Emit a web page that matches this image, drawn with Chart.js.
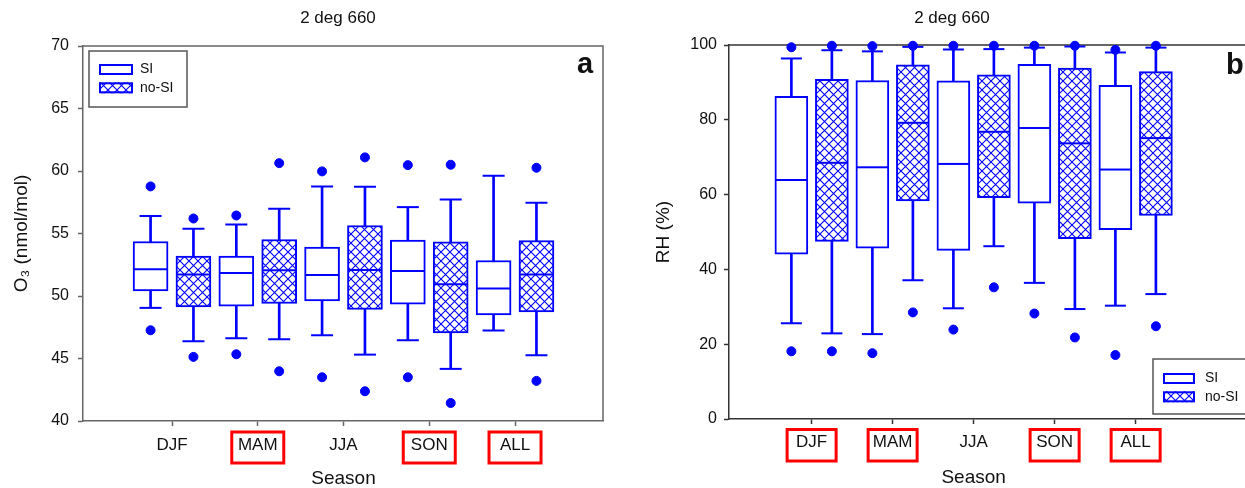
<!DOCTYPE html>
<html lang="en">
<head>
<meta charset="UTF-8">
<title>2 deg 660</title>
<script src="https://cdn.jsdelivr.net/npm/chart.js"></script>
<style>
    body { margin: 0; background: #fff; }
    #wrap { position: relative; width: 1245px; height: 488px; }
    #o3Chart { position: absolute; left: 0; top: 0; }
    #rhChart { position: absolute; left: 622px; top: 0; }
</style>
</head>
<body>
<div id="wrap">
    <canvas id="o3Chart" width="622" height="488"></canvas>
    <canvas id="rhChart" width="623" height="488"></canvas>
</div>
<script>
const seasons = ['DJF', 'MAM', 'JJA', 'SON', 'ALL'];

// each row: lower whisker, Q1, median, Q3, upper whisker
const o3SI = [
    [49.05, 50.41, 52.15, 54.36, 56.40],
    [46.62, 49.18, 51.85, 53.19, 55.72],
    [46.86, 49.61, 51.69, 53.91, 58.76],
    [46.46, 49.34, 52.01, 54.47, 57.11],
    [47.24, 48.49, 50.60, 52.84, 59.62]
];
const o3SIOut = [[47.26, 58.77], [45.34, 56.44], [43.50, 59.97], [43.50, 60.47], []];

const o3NoSI = [
    [46.38, 49.13, 51.72, 53.19, 55.38],
    [46.54, 49.40, 52.07, 54.52, 56.98],
    [45.31, 48.92, 52.09, 55.64, 58.74],
    [44.17, 47.05, 50.94, 54.33, 57.72],
    [45.26, 48.73, 51.72, 54.44, 57.46]
];
const o3NoSIOut = [[45.13, 56.20], [43.98, 60.63], [42.38, 61.09], [41.44, 60.50], [43.21, 60.26]];

const rhSI = [
    [25.6, 44.1, 63.9, 86.3, 96.4],
    [22.7, 45.7, 67.3, 90.5, 98.3],
    [29.6, 45.1, 68.2, 90.4, 98.8],
    [36.4, 57.7, 77.8, 94.8, 99.3],
    [30.3, 50.6, 66.7, 89.2, 98.0]
];
const rhSIOut = [[18.1, 99.4], [17.6, 99.7], [23.9, 99.8], [28.2, 99.8], [17.1, 98.7]];

const rhNoSI = [
    [22.9, 47.5, 68.5, 90.8, 98.6],
    [37.1, 58.3, 79.2, 94.7, 99.5],
    [46.2, 59.2, 76.8, 92.0, 98.9],
    [29.4, 48.2, 73.7, 93.8, 99.6],
    [33.4, 54.4, 75.1, 92.9, 99.3]
];
const rhNoSIOut = [[18.1, 99.8], [28.5, 99.8], [35.2, 99.8], [21.8, 99.8], [24.8, 99.8]];

const blue = '#0000ff';
const ink = '#111';
const fontFamily = '"Liberation Sans", Arial, sans-serif';
Chart.defaults.font.family = fontFamily;

// cross hatch fill used for the no-SI boxes
function hatch() {
    const c = document.createElement('canvas');
    c.width = 9; c.height = 9;
    const g = c.getContext('2d');
    g.fillStyle = '#fff';
    g.fillRect(0, 0, 9, 9);
    g.strokeStyle = blue;
    g.lineWidth = 1.1;
    g.beginPath();
    g.moveTo(-1, -1); g.lineTo(10, 10);
    g.moveTo(10, -1); g.lineTo(-1, 10);
    g.stroke();
    return g.createPattern(c, 'repeat');
}
const hatchFill = hatch();

function boxSets(stats, outs, shift, fill, boxW, capR) {
    const xs = stats.map((s, i) => i + 1 + shift);
    return [
        { type: 'bar', data: stats.map((s, i) => ({ x: xs[i], y: [s[0], s[4]] })),
          backgroundColor: blue, borderWidth: 0, barThickness: 2, grouped: false, order: 4 },
        { type: 'bar', data: stats.map((s, i) => ({ x: xs[i], y: [s[1], s[3]] })),
          backgroundColor: fill, borderColor: blue, borderWidth: 2, borderSkipped: false,
          barThickness: boxW, grouped: false, order: 3 },
        { type: 'scatter', data: stats.map((s, i) => ({ x: xs[i], y: s[2] })),
          pointStyle: 'line', pointRadius: boxW / 2 - 1, pointBorderColor: blue, pointBorderWidth: 2, order: 2 },
        { type: 'scatter', data: stats.flatMap((s, i) => [{ x: xs[i], y: s[0] }, { x: xs[i], y: s[4] }]),
          pointStyle: 'line', pointRadius: capR, pointBorderColor: blue, pointBorderWidth: 2, order: 2 },
        { type: 'scatter', data: outs.flatMap((o, i) => o.map(v => ({ x: xs[i], y: v }))),
          pointStyle: 'circle', pointRadius: 4.5, pointBackgroundColor: blue, pointBorderColor: blue,
          pointBorderWidth: 1, clip: false, order: 1 }
    ];
}

// title, panel letter, frame, x title, red label boxes and the legend
const panelDeco = {
    id: 'panelDeco',
    beforeDatasetsDraw(chart, args, o) {
        const { ctx, chartArea: a } = chart;
        ctx.save();
        ctx.strokeStyle = o.frame;
        ctx.lineWidth = 1.5;
        ctx.beginPath();
        ctx.moveTo(a.left, a.top);
        ctx.lineTo(a.right, a.top);
        if (o.closed) ctx.lineTo(a.right, a.bottom);
        ctx.stroke();
        ctx.restore();
    },
    afterDraw(chart, args, o) {
        const { ctx, scales: { x } } = chart;
        ctx.save();
        ctx.fillStyle = ink;
        ctx.font = '17px ' + fontFamily;
        ctx.textAlign = 'center';
        ctx.textBaseline = 'middle';
        ctx.fillText(o.title, o.titleX, 18);

        // axis title sits under the middle season tick
        ctx.font = '19px ' + fontFamily;
        ctx.fillText('Season', x.getPixelForValue(3), o.seasonY);

        ctx.font = 'bold 29px ' + fontFamily;
        ctx.textAlign = 'left';
        ctx.textBaseline = 'alphabetic';
        ctx.fillText(o.letter, o.letterX, o.letterY);

        ctx.strokeStyle = '#ff0000';
        ctx.lineWidth = 3;
        o.marked.forEach(name => {
            const px = x.getPixelForValue(seasons.indexOf(name) + 1);
            ctx.strokeRect(px - o.markW / 2, o.markTop, o.markW, o.markH);
        });

        const L = o.legend;
        ctx.strokeStyle = '#555';
        ctx.lineWidth = 1.5;
        ctx.strokeRect(L.x, L.y, L.w, L.h);
        [['SI', '#fff'], ['no-SI', hatchFill]].forEach(([label, fill], i) => {
            const y = L.symY + i * L.gap;
            ctx.fillStyle = fill;
            ctx.fillRect(L.symX, y, L.symW, L.symH);
            ctx.strokeStyle = blue;
            ctx.lineWidth = 2;
            ctx.strokeRect(L.symX + 1, y + 1, L.symW - 2, L.symH - 2);
            ctx.fillStyle = ink;
            ctx.font = '14px ' + fontFamily;
            ctx.textBaseline = 'middle';
            ctx.fillText(label, L.textX, y + L.symH / 2);
        });
        ctx.restore();
    }
};

function panel(id, p) {
    return new Chart(document.getElementById(id), {
        type: 'bar',
        data: {
            datasets: [
                ...boxSets(p.si, p.siOut, -0.25, '#fff', p.boxW, p.capR),
                ...boxSets(p.noSi, p.noSiOut, 0.25, hatchFill, p.boxW, p.capR)
            ]
        },
        options: {
            responsive: false,
            animation: false,
            events: [],
            layout: { padding: p.padding, autoPadding: false },
            scales: {
                x: {
                    type: 'linear',
                    min: p.xMin, max: p.xMax,
                    offset: false,
                    afterBuildTicks: s => { s.ticks = seasons.map((n, i) => ({ value: i + 1 })); },
                    afterFit: s => { s.height = p.xHeight; s.paddingLeft = 0; s.paddingRight = 0; },
                    ticks: {
                        autoSkip: false, maxRotation: 0, color: ink, padding: p.xPad,
                        font: { size: 17 },
                        callback: v => seasons[v - 1] || ''
                    },
                    grid: { drawOnChartArea: false, offset: false, tickLength: 5, tickColor: p.frame, tickWidth: 1.5 },
                    border: { color: p.frame, width: 1.5 }
                },
                y: {
                    min: p.yMin, max: p.yMax,
                    afterFit: s => { s.width = p.yWidth; s.paddingTop = 0; s.paddingBottom = 0; },
                    ticks: { stepSize: p.yStep, color: ink, padding: p.yPad, font: { size: 16 } },
                    grid: { drawOnChartArea: false, tickLength: 5, tickColor: p.frame, tickWidth: 1.5 },
                    border: { color: p.frame, width: 1.5 },
                    title: { display: true, text: p.yTitle, color: ink, font: { size: 19, lineHeight: 1 },
                             padding: { top: p.yTitlePad, bottom: 0 } }
                }
            },
            plugins: {
                legend: { display: false },
                tooltip: { enabled: false },
                panelDeco: p.deco
            }
        },
        plugins: [panelDeco]
    });
}

panel('o3Chart', {
    si: o3SI, siOut: o3SIOut, noSi: o3NoSI, noSiOut: o3NoSIOut,
    boxW: 35, capR: 11,
    padding: { top: 46, right: 19, left: 0, bottom: 0 },
    xMin: -0.038, xMax: 6.026, xHeight: 67, xPad: 9,
    yMin: 40, yMax: 70, yStep: 5, yWidth: 83, yPad: 9, yTitlePad: 12,
    yTitle: 'O\u2083 (nmol/mol)',
    frame: '#666',
    deco: {
        frame: '#666', closed: true,
        title: '2 deg 660', titleX: 338, seasonY: 479,
        letter: 'a', letterX: 577, letterY: 73,
        marked: ['MAM', 'SON', 'ALL'], markW: 52, markTop: 432, markH: 31,
        legend: { x: 89, y: 51, w: 98, h: 56, symX: 99, symY: 64, symW: 34, symH: 11, gap: 18.3, textX: 140 }
    }
});

panel('rhChart', {
    si: rhSI, siOut: rhSIOut, noSi: rhNoSI, noSiOut: rhNoSIOut,
    boxW: 33, capR: 10.5,
    padding: { top: 45, right: 0, left: 0, bottom: 0 },
    xMin: -0.02, xMax: 6.35, xHeight: 69, xPad: 8,
    yMin: 0, yMax: 100, yStep: 20, yWidth: 107, yPad: 7, yTitlePad: 32,
    yTitle: 'RH (%)',
    frame: '#333',
    deco: {
        frame: '#333', closed: false,
        title: '2 deg 660', titleX: 330, seasonY: 477.5,
        letter: 'b', letterX: 604, letterY: 74,
        marked: ['DJF', 'MAM', 'SON', 'ALL'], markW: 49, markTop: 429.5, markH: 31.5,
        legend: { x: 531, y: 359, w: 100, h: 55, symX: 541, symY: 373, symW: 32, symH: 11, gap: 18.3, textX: 583 }
    }
});
</script>
</body>
</html>
